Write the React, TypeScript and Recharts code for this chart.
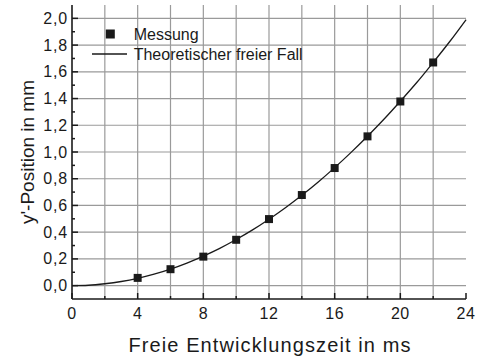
import React from 'react';
import {ComposedChart, Line, Scatter, XAxis, YAxis, ReferenceLine} from 'recharts';

// Messpunkte: freie Entwicklungszeit (ms) und y'-Position (mm)
const measuredTime = [4, 6, 8, 10, 12, 14, 16, 18, 20, 22];
const measuredPos = [0.058, 0.123, 0.217, 0.343, 0.498, 0.678, 0.88, 1.117, 1.378, 1.67];

const theoryTime = [0, 1, 2, 3, 4, 5, 6, 7, 8, 9, 10, 11, 12, 13, 14, 15, 16, 17, 18, 19, 20, 21, 22, 23, 24];
const theoryPos = [
  0, 0.003, 0.014, 0.031, 0.055, 0.086, 0.124, 0.169, 0.221, 0.279, 0.345, 0.417, 0.497, 0.583, 0.676,
  0.776, 0.883, 0.997, 1.118, 1.245, 1.38, 1.52, 1.67, 1.825, 1.99,
];

// Achsen
const xTicks = [0, 2, 4, 6, 8, 10, 12, 14, 16, 18, 20, 22, 24];
const xGrid = [2, 4, 6, 8, 10, 12, 14, 16, 18, 20, 22];
const yTicks = [
  0, 0.1, 0.2, 0.3, 0.4, 0.5, 0.6, 0.7, 0.8, 0.9, 1.0, 1.1, 1.2, 1.3, 1.4, 1.5, 1.6, 1.7, 1.8, 1.9, 2.0,
];
const yGrid = [0, 0.2, 0.4, 0.6, 0.8, 1.0, 1.2, 1.4, 1.6, 1.8, 2.0];

const measured = measuredTime.map((t, i) => ({t, y: measuredPos[i]}));
const theory = theoryTime.map((t, i) => ({t, y: theoryPos[i]}));

const INK = '#1a1a1a';
const GRID = '#9a9a9a';
const axisLine = {stroke: INK, strokeWidth: 1.6};

const isMajorX = (v: number) => v % 4 === 0;
const isMajorY = (v: number) => Math.round(v * 10) % 2 === 0;
const fmt = (v: number) => v.toFixed(1).replace('.', ',');

const BottomTick = ({x, y, payload}: any) => {
  const major = isMajorX(payload.value);
  return (
    <g>
      <line x1={x} x2={x} y1={y} y2={y - (major ? 6 : 3)} stroke={INK} strokeWidth={1.5} />
      {major && (
        <text x={x} y={y + 20} textAnchor='middle' fontSize={16} letterSpacing={0.5} fill={INK}>
          {payload.value}
        </text>
      )}
    </g>
  );
};

const TopTick = ({x, y, payload}: any) => {
  const major = isMajorX(payload.value);
  return <line x1={x} x2={x} y1={y} y2={y + (major ? 6 : 3)} stroke={INK} strokeWidth={1.5} />;
};

const LeftTick = ({x, y, payload}: any) => {
  const major = isMajorY(payload.value);
  return (
    <g>
      <line x1={x} x2={x + (major ? 6 : 3)} y1={y} y2={y} stroke={INK} strokeWidth={1.5} />
      {major && (
        <text x={x - 4} y={y + 5.5} textAnchor='end' fontSize={16} letterSpacing={0.8} fill={INK}>
          {fmt(payload.value)}
        </text>
      )}
    </g>
  );
};

const RightTick = ({x, y, payload}: any) => {
  const major = isMajorY(payload.value);
  return <line x1={x} x2={x - (major ? 6 : 3)} y1={y} y2={y} stroke={INK} strokeWidth={1.5} />;
};

export default function App() {
  return (
    <div
      style={{
        position: 'absolute',
        left: 0,
        top: 0,
        width: 477,
        height: 363,
        background: '#fff',
        fontFamily: '"Liberation Sans", Arial, sans-serif',
      }}
    >
      <ComposedChart width={477} height={363} margin={{top: 5, right: 11, left: 0, bottom: 0}}>
        <XAxis
          dataKey='t'
          type='number'
          domain={[0, 24]}
          ticks={xTicks}
          interval={0}
          height={64}
          tickSize={0}
          tickMargin={0}
          tickLine={false}
          axisLine={axisLine}
          tick={<BottomTick />}
        />
        <XAxis
          xAxisId='top'
          orientation='top'
          type='number'
          domain={[0, 24]}
          ticks={xTicks}
          interval={0}
          height={0}
          tickSize={0}
          tickMargin={0}
          tickLine={false}
          axisLine={axisLine}
          tick={<TopTick />}
        />
        <YAxis
          type='number'
          domain={[-0.1, 2.1]}
          ticks={yTicks}
          interval={0}
          width={72}
          tickSize={0}
          tickMargin={0}
          tickLine={false}
          axisLine={axisLine}
          tick={<LeftTick />}
        />
        <YAxis
          yAxisId='right'
          orientation='right'
          type='number'
          domain={[-0.1, 2.1]}
          ticks={yTicks}
          interval={0}
          width={0}
          tickSize={0}
          tickMargin={0}
          tickLine={false}
          axisLine={axisLine}
          tick={<RightTick />}
        />
        {xGrid.map((v) => (
          <ReferenceLine key={`gx${v}`} x={v} stroke={GRID} strokeWidth={1.2} />
        ))}
        {yGrid.map((v) => (
          <ReferenceLine key={`gy${v}`} y={v} stroke={GRID} strokeWidth={1.2} />
        ))}
        <Line
          data={theory}
          dataKey='y'
          type='monotone'
          stroke={INK}
          strokeWidth={1.3}
          dot={false}
          activeDot={false}
          isAnimationActive={false}
          name='Theoretischer freier Fall'
        />
        <Scatter
          data={measured}
          dataKey='y'
          shape='square'
          fill={INK}
          size={81}
          isAnimationActive={false}
          name='Messung'
        />
      </ComposedChart>

      {/* Legende */}
      <svg style={{position: 'absolute', left: 85, top: 24}} width={240} height={44}>
        <rect x={20.8} y={5.5} width={9} height={9} fill={INK} />
        <text x={48.7} y={16} fontSize={16} fill={INK}>
          Messung
        </text>
        <line x1={7} x2={42} y1={30} y2={30} stroke={INK} strokeWidth={1.3} />
        <text x={48.7} y={36} fontSize={16} fill={INK}>
          Theoretischer freier Fall
        </text>
      </svg>

      {/* Achsentitel */}
      <svg style={{position: 'absolute', left: 0, top: 0}} width={477} height={363}>
        <text x={270} y={352} textAnchor='middle' fontSize={20} letterSpacing={1.1} fill={INK}>
          Freie Entwicklungszeit in ms
        </text>
        <text x={33.5} y={152} transform='rotate(-90 33.5 152)' textAnchor='middle' fontSize={19} fill={INK}>
          y'-Position in mm
        </text>
      </svg>
    </div>
  );
}
